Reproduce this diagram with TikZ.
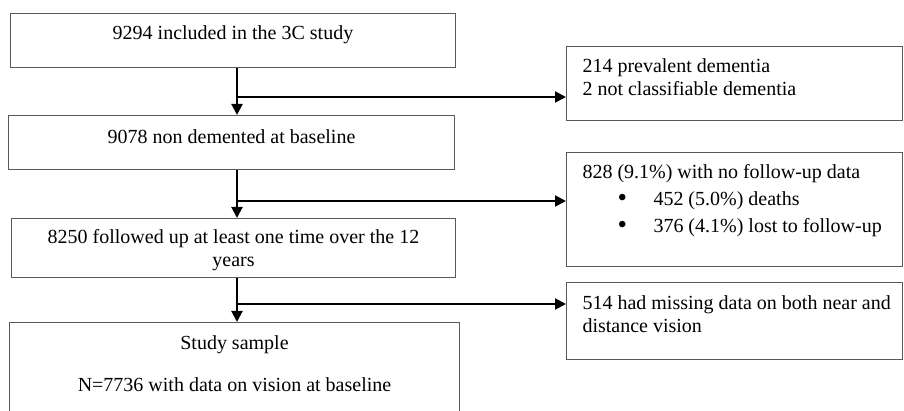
\documentclass[tikz,border=0pt]{standalone}
\usepackage{fontspec}
\setmainfont{Liberation Serif}
\usetikzlibrary{arrows.meta}
\newcommand{\listdot}{\hspace*{35pt}\makebox[36pt][l]{\raisebox{-1pt}[0pt][0pt]{\fontsize{27}{23}\selectfont\textbullet}}}
\begin{document}
\begin{tikzpicture}
[x=1pt,y=-1pt,
 every node/.style={draw=black!65,line width=1pt,inner sep=0pt,anchor=north west,
   font=\fontsize{20}{23}\selectfont},
 mainbox/.style={align=flush center},
 sidebox/.style={text width=336pt,align=flush left,execute at begin node={\leftskip=16pt}},
 flow/.style={black,line width=2pt,-{Triangle[length=11pt,width=11pt]}}]
  \useasboundingbox (0,0) rectangle (904,411);
  \clip (0,0) rectangle (904,411);
  % main column
  \node[mainbox,text width=445pt,text height=26.5pt,text depth=27.5pt] (incl) at (10,13)
    {9294 included in the 3C study};
  \node[mainbox,text width=446pt,text height=28.5pt,text depth=25.5pt] (nondem) at (8,115)
    {9078 non demented at baseline};
  \node[mainbox,text width=444pt,text height=25.5pt,text depth=33.5pt] (follow) at (11,218)
    {8250 followed up at least one time over the 12\\years};
  \node[mainbox,text width=450pt,text height=26.5pt,text depth=81.5pt] (sample) at (9,322)
    {Study sample\\[19pt]N=7736 with data on vision at baseline};
  % exclusions
  \node[sidebox,text height=26.5pt,text depth=87.5pt] (lost) at (566,152)
    {828 (9.1\%) with no follow-up data\\[4pt]
     \listdot 452 (5.0\%) deaths\\[4pt]
     \listdot 376 (4.1\%) lost to follow-up};
  \node[sidebox,text height=26.5pt,text depth=47.5pt] (prev) at (566,46)
    {214 prevalent dementia\\2 not classifiable dementia};
  \node[sidebox,text height=26.5pt,text depth=50.5pt] (novis) at (566,282)
    {514 had missing data on both near and\\distance vision};
  % connectors
  \coordinate (spine) at (237,0);
  \coordinate (j1) at (237,97);
  \coordinate (j2) at (237,201);
  \coordinate (j3) at (237,304);
  \draw[flow] (incl.south -| spine) -- (nondem.north -| spine);
  \draw[flow] (nondem.south -| spine) -- (follow.north -| spine);
  \draw[flow] (follow.south -| spine) -- (sample.north -| spine);
  \draw[flow] (j1) -- (j1 -| prev.west);
  \draw[flow] (j2) -- (j2 -| lost.west);
  \draw[flow] (j3) -- (j3 -| novis.west);
\end{tikzpicture}
\end{document}
